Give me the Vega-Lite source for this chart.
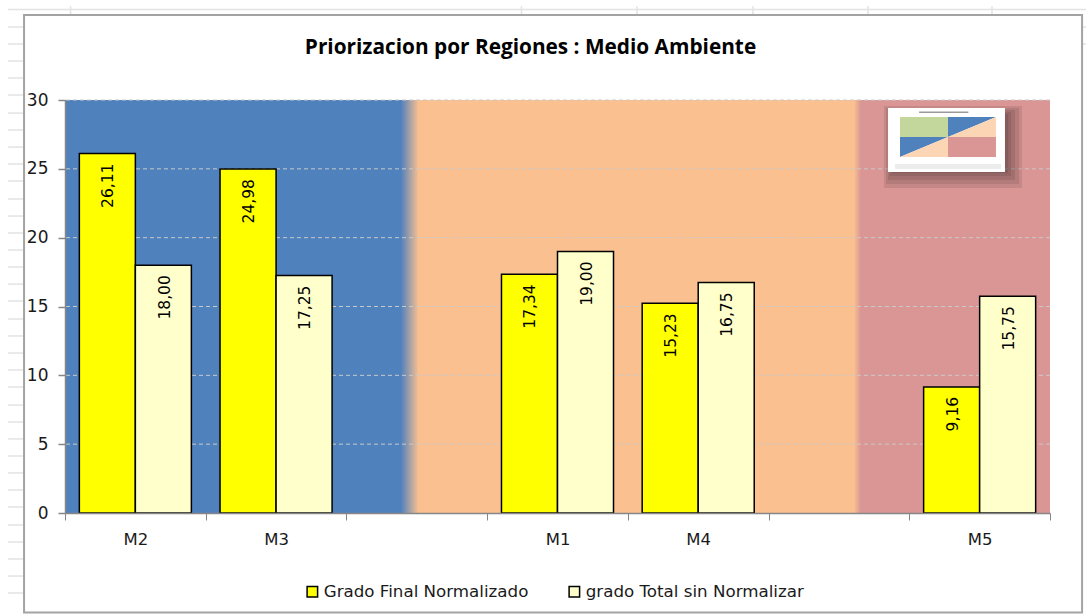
{
"$schema":"https://vega.github.io/schema/vega-lite/v6.json",
"width":985,"height":413,
"autosize":"none",
"padding":{"left":65,"top":100,"right":36,"bottom":101},
"background":"#ffffff",
"title":{"text":"Priorizacion por Regiones : Medio Ambiente","anchor":"middle","dx":-27,"offset":-54,"font":"Open Sans","fontSize":20.8,"fontWeight":"bold","color":"#000000"},
"config":{"view":{"stroke":null},"style":{"guide-label":{"font":"DejaVu Sans"}}},
"resolve":{"scale":{"x":"independent","color":"independent","xOffset":"independent"},"axis":{"y":"independent"}},
"layer":[
{"data":{"values":[
{"x1":-0.405,"x2":7.256,"y1":36.57,"y2":36.57},
{"x1":0.04,"x2":0.04,"y1":36.83,"y2":36.1},
{"x1":3.244,"x2":3.244,"y1":36.83,"y2":36.1},
{"x1":4.065,"x2":4.065,"y1":36.83,"y2":36.1},
{"x1":4.889,"x2":4.889,"y1":36.83,"y2":36.1},
{"x1":5.707,"x2":5.707,"y1":36.83,"y2":36.1},
{"x1":6.588,"x2":6.588,"y1":36.83,"y2":36.1},
{"x1":-0.405,"x2":-0.291,"y1":35.30,"y2":35.30},{"x1":-0.405,"x2":-0.291,"y1":34.07,"y2":34.07},{"x1":-0.405,"x2":-0.291,"y1":32.83,"y2":32.83},{"x1":-0.405,"x2":-0.291,"y1":31.60,"y2":31.60},{"x1":-0.405,"x2":-0.291,"y1":30.36,"y2":30.36},{"x1":-0.405,"x2":-0.291,"y1":29.05,"y2":29.05},{"x1":-0.405,"x2":-0.291,"y1":27.82,"y2":27.82},{"x1":-0.405,"x2":-0.291,"y1":26.58,"y2":26.58},{"x1":-0.405,"x2":-0.291,"y1":25.35,"y2":25.35},{"x1":-0.405,"x2":-0.291,"y1":24.12,"y2":24.12},{"x1":-0.405,"x2":-0.291,"y1":22.81,"y2":22.81},{"x1":-0.405,"x2":-0.291,"y1":21.57,"y2":21.57},{"x1":-0.405,"x2":-0.291,"y1":20.34,"y2":20.34},{"x1":-0.405,"x2":-0.291,"y1":19.10,"y2":19.10},{"x1":-0.405,"x2":-0.291,"y1":17.87,"y2":17.87},{"x1":-0.405,"x2":-0.291,"y1":16.63,"y2":16.63},{"x1":-0.405,"x2":-0.291,"y1":15.40,"y2":15.40},{"x1":-0.405,"x2":-0.291,"y1":14.09,"y2":14.09},{"x1":-0.405,"x2":-0.291,"y1":12.86,"y2":12.86},{"x1":-0.405,"x2":-0.291,"y1":11.62,"y2":11.62},{"x1":-0.405,"x2":-0.291,"y1":10.39,"y2":10.39},{"x1":-0.405,"x2":-0.291,"y1":9.15,"y2":9.15},{"x1":-0.405,"x2":-0.291,"y1":7.84,"y2":7.84},{"x1":-0.405,"x2":-0.291,"y1":6.61,"y2":6.61},{"x1":-0.405,"x2":-0.291,"y1":5.38,"y2":5.38},{"x1":-0.405,"x2":-0.291,"y1":4.14,"y2":4.14},{"x1":-0.405,"x2":-0.291,"y1":2.91,"y2":2.91},{"x1":-0.405,"x2":-0.291,"y1":1.67,"y2":1.67},{"x1":-0.405,"x2":-0.291,"y1":0.44,"y2":0.44},{"x1":-0.405,"x2":-0.291,"y1":-0.87,"y2":-0.87},{"x1":-0.405,"x2":-0.291,"y1":-2.11,"y2":-2.11},{"x1":-0.405,"x2":-0.291,"y1":-3.34,"y2":-3.34},{"x1":-0.405,"x2":-0.291,"y1":-4.58,"y2":-4.58},{"x1":-0.405,"x2":-0.291,"y1":-5.81,"y2":-5.81},
{"x1":7.228,"x2":7.256,"y1":35.30,"y2":35.30},{"x1":7.228,"x2":7.256,"y1":34.07,"y2":34.07}
]},
"mark":{"type":"rule","stroke":"#e3e3e3","strokeWidth":1.5},
"encoding":{
"x":{"field":"x1","type":"quantitative","scale":{"domain":[0,7],"nice":false,"zero":false},"axis":null},
"x2":{"field":"x2"},
"y":{"field":"y1","type":"quantitative","scale":{"domain":[0,30],"nice":false,"zero":false},"axis":null},
"y2":{"field":"y2"}
}},
{"data":{"values":[{"x1":-0.291,"x2":7.228,"y1":36.17,"y2":-7.23}]},
"mark":{"type":"rect","fill":"#ffffff","stroke":"#a3a3a3","strokeWidth":2},
"encoding":{
"x":{"field":"x1","type":"quantitative","scale":{"domain":[0,7],"nice":false,"zero":false},"axis":null},
"x2":{"field":"x2"},
"y":{"field":"y1","type":"quantitative","axis":null},
"y2":{"field":"y2"}
}},
{"data":{"values":[{"x1":0,"x2":7,"y1":30,"y2":0}]},
"mark":{"type":"rect","color":{"gradient":"linear","x1":0,"y1":0,"x2":1,"y2":0,"stops":[
{"offset":0,"color":"#4f81bd"},{"offset":0.341,"color":"#4f81bd"},{"offset":0.359,"color":"#fac090"},{"offset":0.801,"color":"#fac090"},{"offset":0.808,"color":"#d99694"},{"offset":1,"color":"#d99694"}]}},
"encoding":{
"x":{"field":"x1","type":"quantitative","scale":{"domain":[0,7],"nice":false,"zero":false},"axis":null},
"x2":{"field":"x2"},
"y":{"field":"y1","type":"quantitative","axis":null},
"y2":{"field":"y2"}
}},
{"data":{"values":[{"tick":5},{"tick":10},{"tick":15},{"tick":20},{"tick":25},{"tick":30}]},
"mark":{"type":"rule","stroke":"#c9c9c9","strokeWidth":1,"strokeDash":[4,3]},
"encoding":{"y":{"field":"tick","type":"quantitative",
"axis":{"title":null,"values":[0,5,10,15,20,25,30],"grid":false,"zindex":1,"domainColor":"#868686","domainWidth":1.5,"tickColor":"#868686","tickSize":7,"tickWidth":1.5,"labelFontSize":17,"labelFont":"DejaVu Sans","labelColor":"#1a1a1a","labelPadding":10}}}},
{"data":{"values":[
{"x1":5.820,"x2":6.801,"y1":29.56,"y2":23.61},
{"x1":5.835,"x2":6.780,"y1":29.42,"y2":23.90},
{"x1":5.849,"x2":6.751,"y1":29.27,"y2":24.19},
{"x1":5.863,"x2":6.723,"y1":29.13,"y2":24.48},
{"x1":5.877,"x2":6.702,"y1":28.98,"y2":24.70}]},
"mark":{"type":"rect","fill":"#000000","opacity":0.09},
"encoding":{
"x":{"field":"x1","type":"quantitative","scale":{"domain":[0,7],"nice":false,"zero":false},"axis":null},
"x2":{"field":"x2"},
"y":{"field":"y1","type":"quantitative","axis":null},
"y2":{"field":"y2"}
}},
{"data":{"values":[
{"part":"card","x1":5.849,"x2":6.680,"y1":29.42,"y2":24.77},
{"part":"titulo","x1":6.07,"x2":6.42,"y1":29.16,"y2":29.05},
{"part":"verde","x1":5.934,"x2":6.275,"y1":28.76,"y2":27.31},
{"part":"rojo","x1":6.275,"x2":6.616,"y1":27.31,"y2":25.86},
{"part":"caja","x1":5.899,"x2":6.652,"y1":25.35,"y2":24.99}]},
"mark":{"type":"rect"},
"encoding":{
"x":{"field":"x1","type":"quantitative","scale":{"domain":[0,7],"nice":false,"zero":false},"axis":null},
"x2":{"field":"x2"},
"y":{"field":"y1","type":"quantitative","axis":null},
"y2":{"field":"y2"},
"color":{"field":"part","type":"nominal","legend":null,"scale":{"domain":["card","titulo","verde","rojo","caja"],"range":["#ffffff","#9a9a9a","#c3d69b","#d99694","#ececec"]}}
}},
{"data":{"values":[
{"part":"azul1","px":6.275,"top":28.76,"bottom":27.31},
{"part":"azul1","px":6.616,"top":28.76,"bottom":28.76},
{"part":"naranja1","px":6.275,"top":27.31,"bottom":27.31},
{"part":"naranja1","px":6.616,"top":28.76,"bottom":27.31},
{"part":"azul2","px":5.934,"top":27.31,"bottom":25.86},
{"part":"azul2","px":6.275,"top":27.31,"bottom":27.31},
{"part":"naranja2","px":5.934,"top":25.86,"bottom":25.86},
{"part":"naranja2","px":6.275,"top":27.31,"bottom":25.86}]},
"mark":{"type":"area"},
"encoding":{
"x":{"field":"px","type":"quantitative","scale":{"domain":[0,7],"nice":false,"zero":false},"axis":null},
"y":{"field":"top","type":"quantitative","axis":null},
"y2":{"field":"bottom"},
"color":{"field":"part","type":"nominal","legend":null,"scale":{"domain":["azul1","azul2","naranja1","naranja2"],"range":["#4f81bd","#4f81bd","#fcd5b5","#fcd5b5"]}}
}},
{"data":{"name":"barras","values":[
{"region":"M2","serie":"Grado Final Normalizado","valor":26.11,"etiqueta":"26,11"},
{"region":"M2","serie":"grado Total sin Normalizar","valor":18.00,"etiqueta":"18,00"},
{"region":"M3","serie":"Grado Final Normalizado","valor":24.98,"etiqueta":"24,98"},
{"region":"M3","serie":"grado Total sin Normalizar","valor":17.25,"etiqueta":"17,25"},
{"region":"M1","serie":"Grado Final Normalizado","valor":17.34,"etiqueta":"17,34"},
{"region":"M1","serie":"grado Total sin Normalizar","valor":19.00,"etiqueta":"19,00"},
{"region":"M4","serie":"Grado Final Normalizado","valor":15.23,"etiqueta":"15,23"},
{"region":"M4","serie":"grado Total sin Normalizar","valor":16.75,"etiqueta":"16,75"},
{"region":"M5","serie":"Grado Final Normalizado","valor":9.16,"etiqueta":"9,16"},
{"region":"M5","serie":"grado Total sin Normalizar","valor":15.75,"etiqueta":"15,75"}]},
"mark":{"type":"bar","stroke":"#000000","strokeWidth":1.5},
"encoding":{
"x":{"field":"region","type":"nominal","scale":{"domain":["M2","M3"," ","M1","M4","  ","M5"],"paddingInner":0,"paddingOuter":0},
"axis":{"title":null,"labelAngle":0,"tickBand":"extent","zindex":1,"domainColor":"#868686","domainWidth":1.5,"tickColor":"#868686","tickWidth":1,"tickSize":7,"labelFontSize":16.5,"labelFont":"DejaVu Sans","labelColor":"#1a1a1a","labelPadding":11}},
"xOffset":{"field":"serie","type":"nominal","scale":{"domain":["Grado Final Normalizado","grado Total sin Normalizar"],"paddingInner":0,"paddingOuter":0.256}},
"y":{"field":"valor","type":"quantitative","axis":null},
"color":{"field":"serie","type":"nominal","scale":{"domain":["Grado Final Normalizado","grado Total sin Normalizar"],"range":["#ffff00","#ffffcc"]},
"legend":{"title":null,"orient":"none","legendX":239,"legendY":483,"direction":"horizontal","columns":2,"symbolType":"square","symbolSize":110,"symbolStrokeColor":"#000000","symbolStrokeWidth":1.5,"symbolOpacity":1,"labelFont":"DejaVu Sans","labelFontSize":16.7,"labelColor":"#1a1a1a","labelOffset":3,"columnPadding":37,"labelLimit":300}}
}},
{"data":{"name":"barras"},
"mark":{"type":"text","angle":270,"align":"right","baseline":"middle","dx":-10,"dy":1,"font":"DejaVu Sans","fontSize":15.5,"color":"#000000"},
"encoding":{
"x":{"field":"region","type":"nominal","scale":{"domain":["M2","M3"," ","M1","M4","  ","M5"],"paddingInner":0,"paddingOuter":0},"axis":null},
"xOffset":{"field":"serie","type":"nominal","scale":{"type":"point","domain":["Grado Final Normalizado","grado Total sin Normalizar"],"padding":0.75}},
"y":{"field":"valor","type":"quantitative","axis":null},
"text":{"field":"etiqueta","type":"nominal"}
}}
]
}
